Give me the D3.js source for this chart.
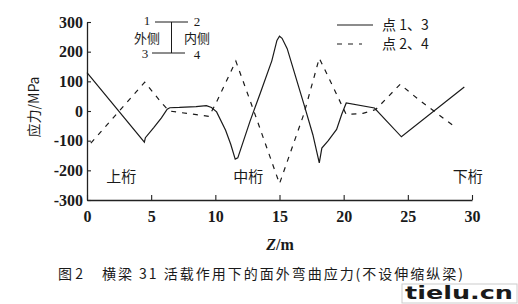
<!DOCTYPE html>
<html>
<head>
<meta charset="utf-8">
<script src="https://cdn.jsdelivr.net/npm/d3@7"></script>
<style>
  body { margin:0; background:#fff; }
  text { fill:#1a1a1a; }
  .num { font-family:"Liberation Serif","DejaVu Serif",serif; }
  .cjk { font-family:"Noto Sans CJK SC","Liberation Serif",serif; }
</style>
</head>
<body>
<div id="chart"></div>
<script>
// points 1,3 (solid)
var z13 = [0, 4.47, 4.55, 5.2, 5.8, 6.25, 6.45, 7.2, 8.5, 9.3, 9.7, 10.1, 10.8, 11.2, 11.55, 11.75, 12.2, 12.7, 13.5, 14.4, 14.8, 15.0, 15.2, 15.6, 16.9, 17.6, 18.1, 18.3, 18.8, 19.45, 19.85, 20.2, 22.4, 24.5, 29.4];
var s13 = [129, -105, -90, -56, -23, 6, 11, 12, 15, 18, 12, -3, -65, -112, -162, -158, -100, -35, 60, 169, 238, 252, 245, 210, 23, -80, -175, -125, -100, -62, -11, 27, 10, -87, 81];
// points 2,4 (dashed)
var z24 = [0.3, 4.5, 5.8, 6.4, 9.5, 10.0, 11.6, 13.0, 15.0, 16.9, 18.1, 19.2, 20.2, 21.5, 22.5, 24.4, 25.8, 28.8];
var s24 = [-108, 97, 28, 0, -18, 22, 168, 0, -245, -10, 178, 79, -12, -8, 5, 90, 40, -58];

var xTicks = [0, 5, 10, 15, 20, 25, 30];
var yTicks = [-300, -200, -100, 0, 100, 200, 300];
var legendNames = ["点 1、3", "点 2、4"];
var girderNames = ["上桁", "中桁", "下桁"];
var girderZ = [1.5, 11.4, 28.5];

var wid = 518, heig = 304;

var svg = d3.select("#chart").append("svg")
    .attr("width", wid)
    .attr("height", heig);

var x = d3.scaleLinear().domain([0, 30]).range([87, 472]);
var y = d3.scaleLinear().domain([-300, 300]).range([200, 22]);

// axes, ticks pointing inside
var xAxis = svg.append("g")
    .attr("transform", "translate(0,200)")
    .call(d3.axisBottom(x).tickValues(xTicks).tickSizeInner(-5).tickSizeOuter(0).tickPadding(11));
var yAxis = svg.append("g")
    .attr("transform", "translate(87,0)")
    .call(d3.axisLeft(y).tickValues(yTicks).tickSizeInner(-4).tickSizeOuter(0).tickPadding(4)
          .tickFormat(function(d) { return d < 0 ? "-" + Math.abs(d) : d; }));

[xAxis, yAxis].forEach(function(a) {
  a.select(".domain").attr("stroke", "#222").attr("stroke-width", 1.3);
  a.selectAll(".tick line").attr("stroke", "#222").attr("stroke-width", 1.1);
  a.selectAll(".tick text")
    .attr("class", "num")
    .style("font-size", "16px")
    .style("font-weight", "bold")
    .attr("fill", "#1a1a1a");
});

// curves
var line = d3.line()
    .x(function(d) { return x(d[0]); })
    .y(function(d) { return y(d[1]); });

svg.append("path")
    .datum(d3.zip(z13, s13))
    .attr("d", line)
    .attr("fill", "none")
    .attr("stroke", "#1a1a1a")
    .attr("stroke-width", 1.2);

svg.append("path")
    .datum(d3.zip(z24, s24))
    .attr("d", line)
    .attr("fill", "none")
    .attr("stroke", "#1a1a1a")
    .attr("stroke-width", 1.2)
    .attr("stroke-dasharray", "5,6");

// girder labels
svg.selectAll("text.girder")
    .data(girderNames)
    .enter().append("text")
    .attr("class", "cjk girder")
    .attr("x", function(d, i) { return x(girderZ[i]); })
    .attr("y", 182)
    .style("font-size", "15px")
    .text(function(d) { return d; });

// legend: line styles
var leg = svg.append("g");
legendNames.forEach(function(n, i) {
  var ly = 25 + i * 19;
  leg.append("line")
      .attr("x1", 337).attr("x2", i ? 362 : 373)
      .attr("y1", ly).attr("y2", ly)
      .attr("stroke", "#1a1a1a")
      .attr("stroke-width", 1.1)
      .attr("stroke-dasharray", i ? "5,6" : null);
  leg.append("text")
      .attr("class", "cjk")
      .attr("x", 382).attr("y", ly + 5)
      .style("font-size", "14px")
      .text(n);
});

// outer/inner side sketch
var side = svg.append("g");
side.append("line").attr("x1", 155).attr("x2", 188).attr("y1", 22).attr("y2", 22).attr("stroke", "#1a1a1a");
side.append("line").attr("x1", 152).attr("x2", 185).attr("y1", 53).attr("y2", 53).attr("stroke", "#1a1a1a");
side.append("line").attr("x1", 171.5).attr("x2", 171.5).attr("y1", 22).attr("y2", 53).attr("stroke", "#1a1a1a");
[["1", 147, 25], ["2", 197, 26], ["3", 145, 58], ["4", 197, 59]].forEach(function(t) {
  side.append("text").attr("class", "num").attr("text-anchor", "middle")
      .attr("x", t[1]).attr("y", t[2]).style("font-size", "13px").text(t[0]);
});
side.append("text").attr("class", "cjk").attr("text-anchor", "middle")
    .attr("x", 147).attr("y", 43).style("font-size", "13px").text("外侧");
side.append("text").attr("class", "cjk").attr("text-anchor", "middle")
    .attr("x", 197).attr("y", 43).style("font-size", "13px").text("内侧");

// axis titles
svg.append("text")
    .attr("class", "cjk")
    .attr("text-anchor", "middle")
    .attr("transform", "translate(39,107) rotate(-90)")
    .style("font-size", "14px")
    .text("应力/MPa");

var zt = svg.append("text")
    .attr("class", "num")
    .attr("text-anchor", "middle")
    .attr("x", 280).attr("y", 250)
    .style("font-size", "16px")
    .style("font-weight", "bold");
zt.append("tspan").style("font-style", "italic").text("Z");
zt.append("tspan").text("/m");

// caption
svg.append("text")
    .attr("class", "cjk")
    .attr("x", 58).attr("y", 279)
    .style("font-size", "14px")
    .text("图 2");
svg.append("text")
    .attr("class", "cjk")
    .attr("x", 102).attr("y", 279)
    .attr("textLength", 361)
    .attr("lengthAdjust", "spacing")
    .style("font-size", "14px")
    .text("横梁 31 活载作用下的面外弯曲应力(不设伸缩纵梁)");

// site watermark
svg.append("rect")
    .attr("x", 402).attr("y", 284)
    .attr("width", 115).attr("height", 19)
    .attr("fill", "#fff")
    .attr("stroke", "#ccc");
svg.append("text")
    .attr("x", 405).attr("y", 299)
    .attr("textLength", 108)
    .attr("lengthAdjust", "spacingAndGlyphs")
    .style("font-family", "'DejaVu Sans',sans-serif")
    .style("font-weight", "bold")
    .style("font-size", "18px")
    .attr("fill", "#111")
    .text("tielu.cn");
</script>
</body>
</html>
